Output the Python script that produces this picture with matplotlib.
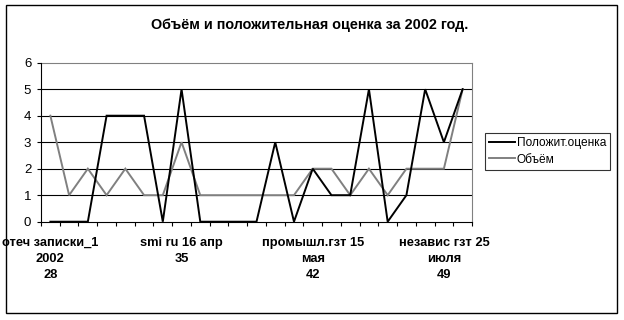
import matplotlib
matplotlib.use("Agg")
import matplotlib.pyplot as plt
from matplotlib.patches import Rectangle
from matplotlib.ticker import FixedLocator, NullFormatter

plt.rcParams['font.family'] = ['Liberation Sans', 'DejaVu Sans']

title = "Объём и положительная оценка за 2002 год."
series_names = ["Положит.оценка", "Объём"]
positive = [0, 0, 0, 4, 4, 4, 0, 5, 0, 0, 0, 0, 3, 0, 2, 1, 1, 5, 0, 1, 5, 3, 5]
volume = [4, 1, 2, 1, 2, 1, 1, 3, 1, 1, 1, 1, 1, 1, 2, 2, 1, 2, 1, 2, 2, 2, 5]
label_idx = [0, 7, 14, 21]
labels = ["отеч записки_1\n2002\n28", "smi ru 16 апр\n35",
          "промышл.гзт 15\nмая\n42", "независ гзт 25\nиюля\n49"]
yticks = [0, 1, 2, 3, 4, 5, 6]

W, H = 624, 320
fig = plt.figure(figsize=(W / 100, H / 100), dpi=100)
ax = fig.add_axes([41 / W, 1 - 221.7 / H, (472 - 41) / W, (221.7 - 62.7) / H])

x = list(range(len(positive)))
ax.set_xlim(-0.5, len(positive) - 0.5)
ax.set_ylim(0, 6)

for yv in yticks[1:-1]:
    ax.axhline(yv, color='black', lw=0.8, zorder=1)

l1, = ax.plot(x, positive, color='black', lw=1.4, zorder=3, solid_joinstyle='miter')
l2, = ax.plot(x, volume, color='#808080', lw=1.4, zorder=2, solid_joinstyle='miter')

ax.set_yticks(yticks)
ax.set_yticklabels([str(v) for v in yticks])
ax.tick_params(axis='y', direction='out', length=3, width=0.8, pad=4, labelsize=9.5)

ax.set_xticks(label_idx)
ax.set_xticklabels(labels, fontweight='bold', fontsize=9.3, linespacing=1.45)
ax.tick_params(axis='x', which='major', length=0, pad=11)
ax.xaxis.set_minor_locator(FixedLocator([i - 0.5 for i in range(len(positive) + 1)]))
ax.xaxis.set_minor_formatter(NullFormatter())
ax.tick_params(axis='x', which='minor', direction='out', length=3, width=0.8)

for s in ['left', 'bottom']:
    ax.spines[s].set_color('black')
    ax.spines[s].set_linewidth(0.8)
for s in ['top', 'right']:
    ax.spines[s].set_color('#808080')
    ax.spines[s].set_linewidth(0.8)
ax.spines['bottom'].set_zorder(4)
ax.spines['left'].set_zorder(4)

fig.text(310 / W, 1 - 25 / H, title, ha='center', va='center',
         fontsize=10.4, fontweight='bold')

leg = fig.legend([l1, l2], series_names, loc='center',
                 bbox_to_anchor=(547.5 / W, 1 - 151.5 / H),
                 fontsize=8.6, frameon=True, fancybox=False, shadow=False,
                 handlelength=2.2, handletextpad=0.1, borderpad=0.35,
                 labelspacing=0.35, borderaxespad=0)
leg.get_frame().set_edgecolor('black')
leg.get_frame().set_linewidth(0.8)

fig.patches.append(Rectangle((5.5 / W, 1 - 313.3 / H), (617.3 - 5.5) / W,
                             (313.3 - 5.3) / H, transform=fig.transFigure,
                             fill=False, edgecolor='black', lw=1.0, zorder=10))

fig.savefig("out.png", dpi=100)
